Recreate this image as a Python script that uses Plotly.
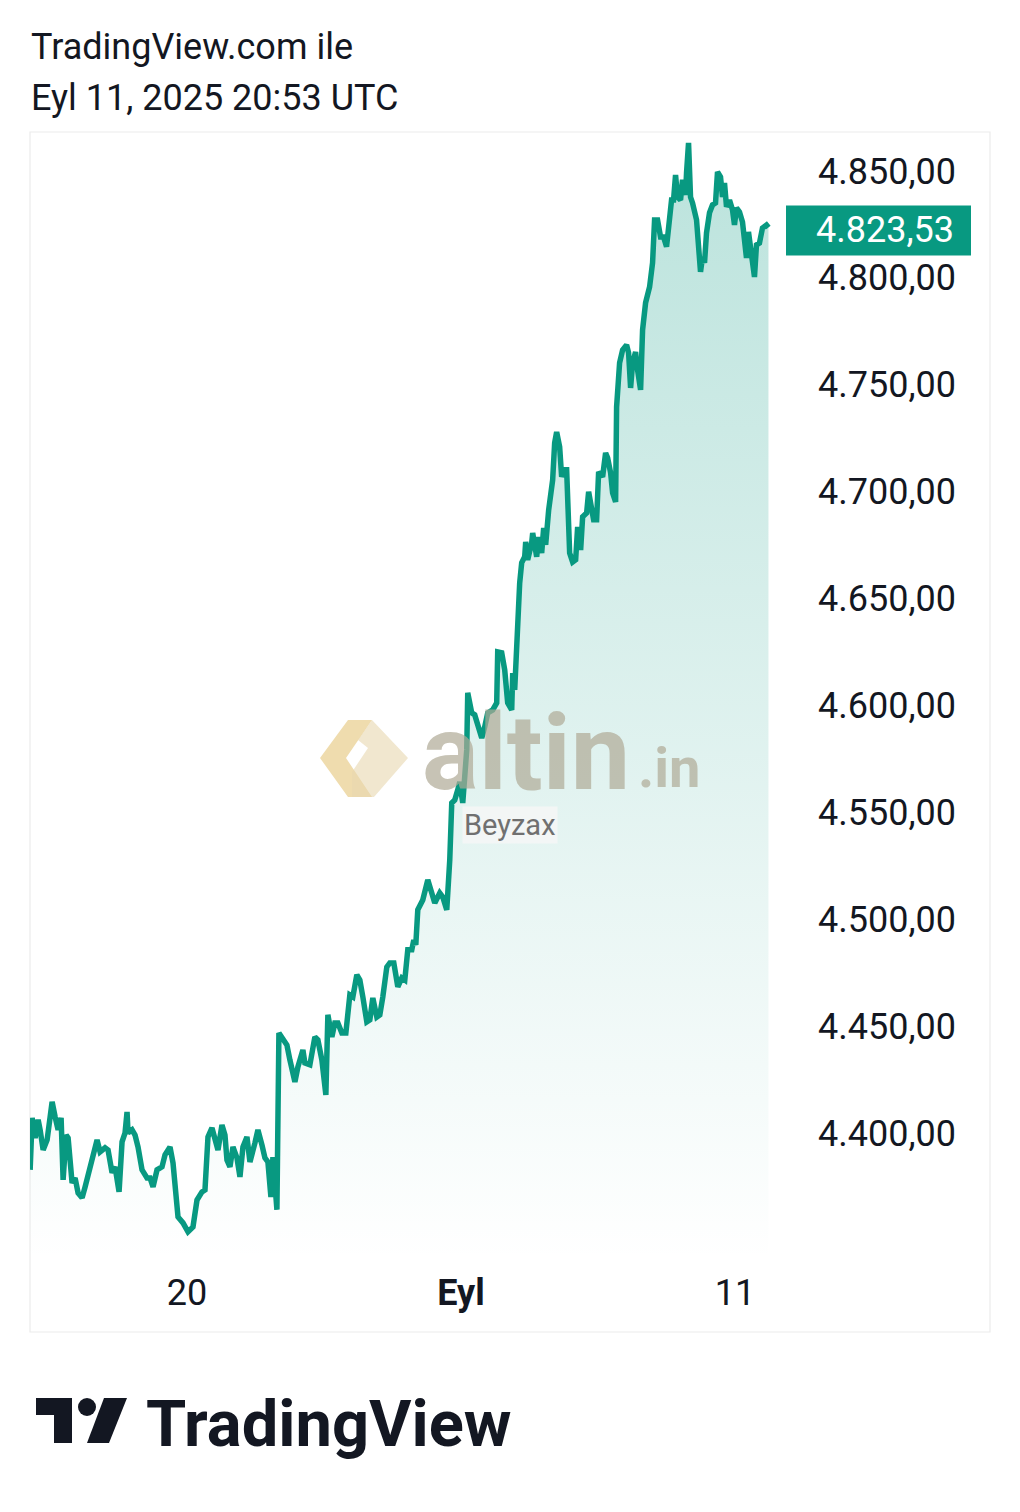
import plotly.graph_objects as go

# ---- data ----
# time in trading hours relative to Aug 20 00:00 (weekends removed)
hours = [-109.9, -108.5, -106.4, -104.3, -102.9, -100.8, -98.0, -94.5, -92.4, -90.3,
         -88.2, -86.8, -84.7, -83.3, -80.5, -78.4, -76.3, -73.5, -71.4, -67.9,
         -64.4, -63.0, -60.9, -57.4, -55.3, -52.5, -50.4, -47.6, -45.5, -43.4,
         -42.0, -41.3, -38.5, -36.4, -34.3, -31.5, -28.0, -25.9, -23.8, -21.0,
         -17.5, -15.4, -11.9, -9.8, -6.3, -2.8, 0.7, 4.2, 7.0, 10.5,
         12.6, 14.7, 17.5, 19.6, 21.7, 24.5, 26.6, 28.0, 30.1, 32.2,
         35.0, 37.1, 39.2, 42.0, 44.1, 47.6, 49.7, 52.5, 54.6, 56.7,
         58.8, 60.2, 63.0, 64.4, 67.2, 70.0, 72.1, 75.6, 77.7, 81.2,
         82.6, 86.1, 89.6, 91.7, 94.5, 97.3, 98.7, 101.5, 103.6, 105.7,
         108.5, 111.3, 114.1, 116.2, 119.0, 121.1, 123.2, 126.0, 128.1, 130.2,
         133.0, 135.1, 137.2, 140.0, 142.1, 144.9, 147.7, 150.5, 152.6, 154.7,
         157.5, 158.9, 160.3, 161.7, 165.2, 168.7, 171.5, 173.6, 177.1, 179.2,
         182.0, 184.1, 185.5, 187.6, 189.7, 191.1, 193.2, 196.0, 196.7, 199.5,
         201.6, 203.7, 206.5, 208.6, 210.7, 214.2, 217.0, 217.7, 220.5, 222.6,
         224.7, 227.5, 228.2, 229.6, 231.7, 233.1, 234.5, 236.6, 237.3, 238.7,
         241.5, 242.2, 245.0, 246.4, 248.5, 249.9, 251.3, 253.4, 256.2, 257.6,
         259.0, 261.1, 262.5, 263.9, 266.0, 266.7, 268.1, 270.2, 272.3, 273.7,
         275.8, 277.2, 280.0, 281.4, 283.5, 284.9, 287.0, 288.4, 291.2, 293.3,
         294.7, 296.8, 298.2, 300.3, 301.0, 303.1, 305.2, 308.0, 309.4, 310.8,
         312.2, 314.3, 315.7, 317.8, 319.2, 321.3, 324.1, 326.2, 327.6, 329.7,
         331.8, 333.9, 336.0, 337.4, 339.5, 340.9, 342.3, 343.7, 345.8, 347.2,
         349.3, 350.0, 351.4, 352.8, 354.2, 357.0, 358.4, 359.8, 361.2, 362.6,
         364.0, 366.1, 368.2, 370.3, 371.7, 373.8, 375.2, 376.6, 378.0, 380.1,
         382.2, 383.6, 385.0, 387.1, 389.2, 390.6, 392.0, 393.4, 395.5, 397.6,
         399.0, 401.1, 403.2, 406.0, 407.4]

prices = [4382.8, 4407.1, 4397.7, 4406.2, 4401.5, 4392.1, 4396.8, 4414.6, 4407.6, 4401.5,
          4407.1, 4378.1, 4399.1, 4397.7, 4376.7, 4379.0, 4372.0, 4369.7, 4374.8, 4384.2,
          4394.5, 4396.8, 4391.2, 4393.1, 4392.1, 4381.4, 4384.2, 4372.5, 4395.9, 4400.1,
          4409.9, 4400.1, 4401.5, 4399.1, 4393.5, 4382.8, 4379.0, 4379.0, 4374.8, 4382.8,
          4384.2, 4389.8, 4393.5, 4386.0, 4360.8, 4358.0, 4353.8, 4356.1, 4368.7, 4372.5,
          4373.4, 4398.2, 4402.4, 4398.2, 4392.1, 4403.8, 4399.1, 4387.4, 4384.2, 4393.5,
          4388.4, 4379.5, 4393.5, 4398.2, 4386.5, 4395.4, 4401.5, 4394.5, 4388.4, 4386.5,
          4370.1, 4388.8, 4364.1, 4446.8, 4443.6, 4441.2, 4434.2, 4423.9, 4430.9, 4438.9,
          4432.8, 4431.9, 4445.0, 4443.6, 4434.2, 4417.8, 4455.3, 4445.0, 4451.5, 4451.5,
          4446.8, 4446.8, 4464.6, 4463.7, 4474.0, 4471.6, 4463.7, 4452.0, 4452.9, 4463.2,
          4454.3, 4455.3, 4463.7, 4477.7, 4479.6, 4479.6, 4468.4, 4472.6, 4471.6, 4485.7,
          4485.7, 4490.3, 4488.0, 4504.4, 4509.0, 4518.4, 4512.3, 4507.6, 4512.3, 4510.4,
          4504.4, 4527.8, 4554.4, 4555.8, 4560.5, 4564.2, 4554.4, 4579.2, 4605.9, 4596.5,
          4595.6, 4590.0, 4584.8, 4590.0, 4596.5, 4597.9, 4601.2, 4625.0, 4624.6, 4616.6,
          4601.2, 4597.9, 4615.2, 4607.3, 4644.7, 4657.3, 4666.7, 4669.5, 4676.5, 4668.1,
          4676.0, 4680.7, 4669.5, 4678.8, 4671.3, 4683.0, 4675.1, 4691.4, 4705.5, 4722.8,
          4727.9, 4720.9, 4706.9, 4710.2, 4710.2, 4686.8, 4671.3, 4667.1, 4668.1, 4683.5,
          4672.7, 4688.2, 4690.0, 4699.9, 4692.9, 4686.8, 4686.8, 4709.2, 4706.9, 4718.1,
          4715.8, 4708.8, 4699.4, 4695.2, 4739.6, 4760.2, 4766.3, 4768.6, 4764.9, 4748.5,
          4760.2, 4765.3, 4756.9, 4747.6, 4775.6, 4788.3, 4795.7, 4807.0, 4827.1, 4827.1,
          4819.1, 4819.1, 4814.5, 4822.4, 4836.4, 4836.4, 4848.1, 4837.8, 4836.4, 4845.8,
          4838.8, 4849.1, 4863.1, 4837.8, 4835.0, 4827.1, 4811.6, 4802.8, 4809.8, 4807.0,
          4821.0, 4830.4, 4834.1, 4835.0, 4849.5, 4847.2, 4837.8, 4844.4, 4833.2, 4836.4,
          4831.8, 4824.7, 4832.7, 4830.8, 4826.1, 4816.3, 4809.3, 4821.5, 4809.8, 4800.4,
          4815.4, 4816.3, 4823.3, 4824.7, 4823.53]

x_tick_vals = [0, 192, 384]
x_tick_text = ["20", "<b>Eyl</b>", "11"]
y_tick_vals = [4400, 4450, 4500, 4550, 4600, 4650, 4700, 4750, 4800, 4850]
last_price = prices[-1]
last_label = "4.823,53"

# ---- layout geometry (pixels) ----
W, H = 1020, 1512
PL, PR, PT, PB = 30, 805, 132, 1262
GREEN = "#089981"
TEXT = "#131722"
FONT = "Roboto"


def xp(px):
    return (px - PL) / (PR - PL)


def yp(py):
    return (PB - py) / (PB - PT)


fig = go.Figure()
fig.add_trace(go.Scatter(
    x=hours, y=prices, mode="lines",
    line=dict(color=GREEN, width=5.5),
    fill="tozeroy",
    fillgradient=dict(type="vertical", start=4340, stop=4850,
                      colorscale=[[0, "rgba(8,153,129,0.0)"],
                                  [1, "rgba(8,153,129,0.27)"]]),
    hoverinfo="skip", showlegend=False,
))

shapes = [
    # outer frame of chart
    dict(type="rect", xref="paper", yref="paper",
         x0=xp(30), x1=xp(990), y0=yp(1332), y1=yp(132),
         line=dict(color="#ebebeb", width=1.2), fillcolor="rgba(0,0,0,0)", layer="below"),
    # last-price box
    dict(type="rect", xref="paper", yref="y", ysizemode="pixel", yanchor=last_price,
         x0=xp(786), x1=xp(971), y0=-28, y1=22,
         line=dict(width=0), fillcolor=GREEN, layer="above"),
    # watermark icon (left chevron)
    dict(type="path", xref="paper", yref="paper",
         path=f"M {xp(348)},{yp(720)} L {xp(372)},{yp(720)} L {xp(346)},{yp(758)} "
              f"L {xp(372)},{yp(797)} L {xp(348)},{yp(797)} L {xp(320)},{yp(758)} Z",
         fillcolor="rgba(228,196,120,0.6)", line=dict(width=0), layer="above"),
    # watermark icon (right part)
    dict(type="path", xref="paper", yref="paper",
         path=f"M {xp(372)},{yp(720)} L {xp(408)},{yp(758)} L {xp(374)},{yp(797)} "
              f"L {xp(352)},{yp(797)} L {xp(352)},{yp(772)} L {xp(368)},{yp(748)} L {xp(358)},{yp(740)} Z",
         fillcolor="rgba(232,215,175,0.6)", line=dict(width=0), layer="above"),
    # TradingView logo: T
    dict(type="rect", xref="paper", yref="paper",
         x0=xp(36), x1=xp(72), y0=yp(1415), y1=yp(1398),
         fillcolor=TEXT, line=dict(width=0)),
    dict(type="rect", xref="paper", yref="paper",
         x0=xp(54), x1=xp(72), y0=yp(1443), y1=yp(1398),
         fillcolor=TEXT, line=dict(width=0)),
    # logo dot
    dict(type="circle", xref="paper", yref="paper",
         x0=xp(78), x1=xp(96), y0=yp(1416), y1=yp(1398),
         fillcolor=TEXT, line=dict(width=0)),
    # logo slash
    dict(type="path", xref="paper", yref="paper",
         path=f"M {xp(104)},{yp(1398)} L {xp(127)},{yp(1398)} L {xp(109)},{yp(1443)} L {xp(87)},{yp(1443)} Z",
         fillcolor=TEXT, line=dict(width=0)),
]

annotations = [
    dict(text="TradingView.com ile", x=xp(29), y=yp(47), xref="paper", yref="paper",
         xanchor="left", yanchor="middle", showarrow=False,
         font=dict(family=FONT, size=36, color=TEXT)),
    dict(text="Eyl 11, 2025 20:53 UTC", x=xp(29), y=yp(98), xref="paper", yref="paper",
         xanchor="left", yanchor="middle", showarrow=False,
         font=dict(family=FONT, size=36, color=TEXT)),
    dict(text=last_label, x=xp(814), y=last_price, xref="paper", yref="y",
         xanchor="left", yanchor="middle", yshift=-2, showarrow=False,
         font=dict(family=FONT, size=36, color="white")),
    # watermark
    dict(text="<b>altin</b>", x=xp(420), y=yp(753), xref="paper", yref="paper",
         xanchor="left", yanchor="middle", showarrow=False,
         font=dict(family=FONT, size=106, color="rgba(175,170,150,0.7)")),
    dict(text="<b>.in</b>", x=xp(636), y=yp(768), xref="paper", yref="paper",
         xanchor="left", yanchor="middle", showarrow=False,
         font=dict(family=FONT, size=56, color="rgba(175,170,150,0.7)")),
    dict(text="Beyzax", x=xp(510), y=yp(825), xref="paper", yref="paper",
         xanchor="center", yanchor="middle", showarrow=False,
         bgcolor="rgba(246,246,246,0.8)", borderpad=1,
         font=dict(family=FONT, size=29, color="#707070")),
    # bottom brand
    dict(text="<b>TradingView</b>", x=xp(144), y=yp(1424), xref="paper", yref="paper",
         xanchor="left", yanchor="middle", showarrow=False,
         font=dict(family=FONT, size=65, color=TEXT)),
]

fig.update_layout(
    width=W, height=H,
    margin=dict(l=PL, r=W - PR, t=PT, b=H - PB, pad=0),
    paper_bgcolor="white", plot_bgcolor="white",
    separators=",.",
    font=dict(family=FONT, color=TEXT),
    shapes=shapes, annotations=annotations,
    xaxis=dict(range=[-110, 433], tickmode="array", tickvals=x_tick_vals, ticktext=x_tick_text,
               showgrid=False, zeroline=False, showline=False, ticks="",
               tickfont=dict(family=FONT, size=36, color=TEXT), ticklabelstandoff=6,
               fixedrange=True),
    yaxis=dict(range=[4339.7, 4868.2], side="right", tickmode="array", tickvals=y_tick_vals,
               tickformat=",.2f", showgrid=False, zeroline=False, showline=False, ticks="",
               tickfont=dict(family=FONT, size=36, color=TEXT), ticklabelstandoff=12,
               fixedrange=True),
)

fig.write_html("out.html", config={"displayModeBar": False},
               post_script="document.body.style.margin='0px';")
